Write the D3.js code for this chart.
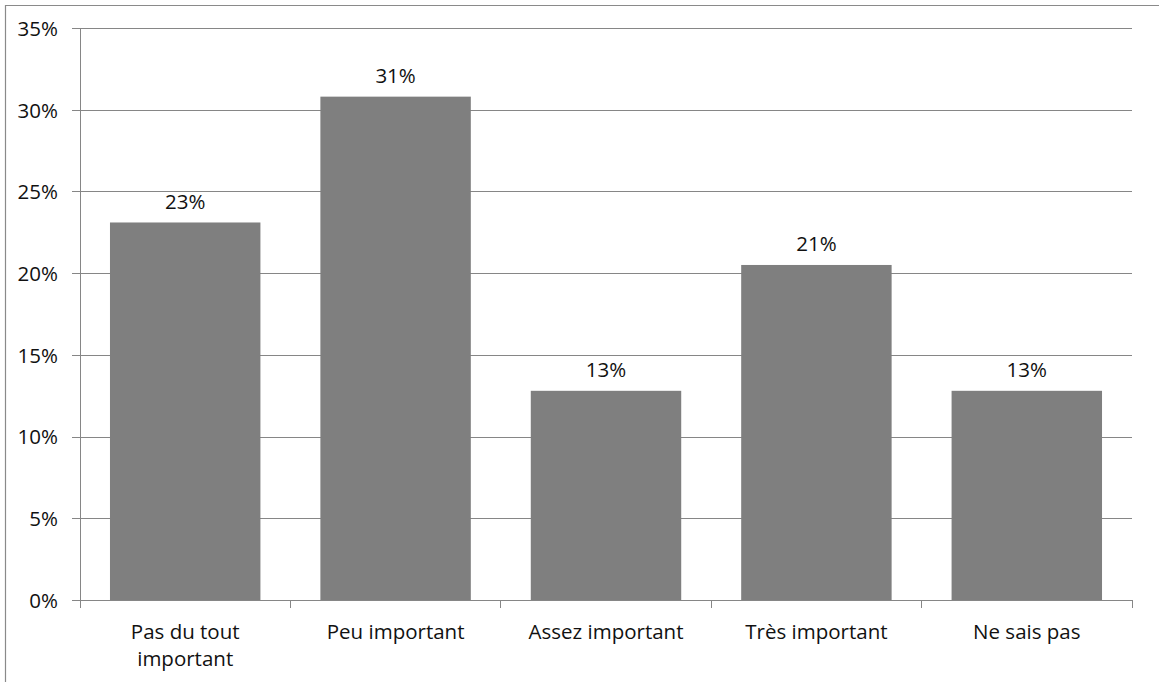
<!DOCTYPE html>
<html>
<head>
<meta charset="utf-8">
<script src="https://cdn.jsdelivr.net/npm/d3@7"></script>
<style>
  html, body { margin: 0; padding: 0; background: #fff; }
  svg { display: block; }
  text { font-family: "Open Sans", sans-serif; fill: #111; }
</style>
</head>
<body>
<svg id="chart" width="1159" height="682"></svg>
<script>
// Survey answers and their shares
const categories = ["Pas du tout important", "Peu important", "Assez important", "Très important", "Ne sais pas"];
const values = [0.231, 0.308, 0.128, 0.205, 0.128];
const yTicks = [0, 0.05, 0.10, 0.15, 0.20, 0.25, 0.30, 0.35];

const W = 1159, H = 682;
const plot = { left: 80, right: 1132, top: 28, bottom: 600 };
const fontSize = 20.5;
const fontFamily = "'Open Sans', sans-serif";
const textColor = "#111";
const fmt = d3.format(".0%");
const lineColor = "#868686";

const svg = d3.select("#chart");

// chart frame (only top and left edges fall inside the page)
svg.append("path")
  .attr("d", `M5.5,${H} V5.5 H${W}`)
  .attr("fill", "none")
  .attr("stroke", "#8a8a8a")
  .attr("stroke-width", 1.2);

const pad = 0.285;
const x = d3.scaleBand()
  .domain(categories)
  .range([plot.left, plot.right])
  .paddingInner(pad)
  .paddingOuter(pad / 2);

const y = d3.scaleLinear()
  .domain([0, 0.35])
  .range([plot.bottom, plot.top]);

// horizontal gridlines with left tick stubs and labels
const yAxis = d3.axisLeft(y)
  .tickValues(yTicks)
  .tickFormat(fmt)
  .tickSizeInner(-(plot.right - plot.left))
  .tickSizeOuter(0)
  .tickPadding(0);

const gy = svg.append("g")
  .attr("transform", `translate(${plot.left},0)`)
  .call(yAxis);
gy.select(".domain").remove();
gy.selectAll(".tick line")
  .attr("x1", -8)
  .attr("stroke", lineColor)
  .attr("shape-rendering", "crispEdges");
gy.selectAll(".tick text")
  .attr("x", -22)
  .attr("dy", "0.36em")
  .style("font-size", fontSize + "px")
  .style("font-family", fontFamily)
  .attr("fill", textColor);

// vertical axis line
svg.append("line")
  .attr("x1", plot.left).attr("x2", plot.left)
  .attr("y1", plot.top).attr("y2", plot.bottom + 8)
  .attr("stroke", lineColor)
  .attr("shape-rendering", "crispEdges");

// bars
svg.append("g")
  .selectAll("rect")
  .data(categories)
  .join("rect")
  .attr("x", d => x(d))
  .attr("width", x.bandwidth())
  .attr("y", (d, i) => y(values[i]))
  .attr("height", (d, i) => y(0) - y(values[i]))
  .attr("fill", "#7f7f7f");

// bar value labels
svg.append("g")
  .selectAll("text")
  .data(categories)
  .join("text")
  .attr("x", d => x(d) + x.bandwidth() / 2)
  .attr("y", (d, i) => y(values[i]) - 21)
  .attr("dy", "0.36em")
  .attr("text-anchor", "middle")
  .style("font-size", fontSize + "px")
  .style("font-family", fontFamily)
  .attr("fill", textColor)
  .text((d, i) => fmt(values[i]));

// category axis with ticks on the category boundaries
const xAxis = d3.axisBottom(x).tickSize(0).tickPadding(0);
const gx = svg.append("g")
  .attr("transform", `translate(0,${plot.bottom})`)
  .call(xAxis);
gx.select(".domain").remove();

svg.append("line")
  .attr("x1", plot.left - 8).attr("x2", plot.right)
  .attr("y1", plot.bottom).attr("y2", plot.bottom)
  .attr("stroke", lineColor)
  .attr("shape-rendering", "crispEdges");

const step = x.step();
const bounds = categories.map(d => x(d) - x.paddingInner() * step / 2).concat([plot.right]);
svg.append("g")
  .selectAll("line")
  .data(bounds)
  .join("line")
  .attr("x1", d => d).attr("x2", d => d)
  .attr("y1", plot.bottom).attr("y2", plot.bottom + 8)
  .attr("stroke", lineColor)
  .attr("shape-rendering", "crispEdges");

// wrap long category names onto two lines
gx.selectAll(".tick text")
  .style("font-size", fontSize + "px")
  .style("font-family", fontFamily)
  .attr("fill", textColor)
  .attr("dy", null)
  .attr("y", null)
  .each(function(d) {
    const t = d3.select(this);
    const words = d.split(" ");
    t.text(null);
    const maxW = 185;
    let lines = [[]];
    const probe = t.append("tspan");
    words.forEach(w => {
      const cur = lines[lines.length - 1];
      probe.text(cur.concat([w]).join(" "));
      if (cur.length && probe.node().getComputedTextLength() > maxW) lines.push([w]);
      else cur.push(w);
    });
    probe.remove();
    lines.forEach((ln, i) => {
      t.append("tspan")
        .attr("x", 0)
        .attr("y", 39 + i * 27)
        .text(ln.join(" "));
    });
  });
</script>
</body>
</html>
